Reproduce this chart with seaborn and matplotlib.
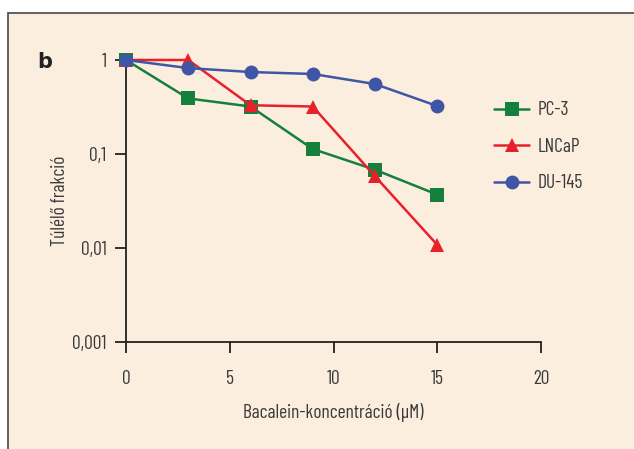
import matplotlib
matplotlib.use("Agg")
import matplotlib.pyplot as plt
from matplotlib.patches import Rectangle
import seaborn as sns
import pandas as pd

# data
conc = [0, 3, 6, 9, 12, 15]
pc3 = [1.0, 0.39, 0.32, 0.113, 0.068, 0.037]
lncap = [1.0, 1.0, 0.33, 0.32, 0.058, 0.0108]
du145 = [1.0, 0.82, 0.745, 0.71, 0.555, 0.324]

series_names = ["PC-3", "LNCaP", "DU-145"]
series_colors = ["#14803C", "#E8202A", "#3F55A5"]
series_markers = ["s", "^", "o"]

x_ticks = [0, 5, 10, 15, 20]
y_ticks = [0.001, 0.01, 0.1, 1]
y_tick_labels = ["0,001", "0,01", "0,1", "1"]

df = pd.DataFrame({
    "conc": conc * 3,
    "frac": pc3 + lncap + du145,
    "line": [n for n in series_names for _ in conc],
})

sns.set_style("ticks")
plt.rcParams["font.family"] = ["Barlow Condensed", "DejaVu Sans"]
text_col = "#3a3a3a"
bg = "#FCEEDF"
fs = 14

fig = plt.figure(figsize=(6.34, 4.49), dpi=100)
fig.patch.set_facecolor("white")
# peach panel with a thin grey frame, running off the right and bottom edges
fig.patches.append(Rectangle((8 / 634, -0.1), 1.2, 1.1 - 13 / 449,
                             transform=fig.transFigure, facecolor=bg,
                             edgecolor="#555555", linewidth=1.3, zorder=-10))
ax = fig.add_axes([126 / 634, 1 - 342 / 449, (541 - 126) / 634, (342 - 60) / 449])
ax.set_facecolor("none")

for name, col, mk in zip(series_names, series_colors, series_markers):
    sub = df[df["line"] == name]
    sns.lineplot(data=sub, x="conc", y="frac", ax=ax, color=col, marker=mk,
                 markersize=10, markeredgewidth=0, linewidth=1.8, label=name,
                 clip_on=False, zorder=3)

ax.set_yscale("log")
ax.set_xlim(0, 20)
ax.set_ylim(0.001, 1)
ax.set_xticks(x_ticks)
ax.set_xticklabels([str(t) for t in x_ticks])
ax.set_yticks(y_ticks)
ax.set_yticklabels(y_tick_labels)
ax.yaxis.set_minor_locator(matplotlib.ticker.NullLocator())

for s in ["top", "right"]:
    ax.spines[s].set_visible(False)
for s in ["left", "bottom"]:
    ax.spines[s].set_color("#222222")
    ax.spines[s].set_linewidth(1.3)
ax.tick_params(axis="both", length=8, width=1.3, color="#222222",
               labelsize=fs, labelcolor=text_col)
ax.tick_params(axis="x", pad=12)
ax.tick_params(axis="y", pad=6)

ax.set_xlabel("Bacalein-koncentráció (µM)", fontsize=fs, color=text_col, labelpad=11)
ax.set_ylabel("Túlélő frakció", fontsize=fs, color=text_col, labelpad=2)

fig.text(45 / 634, 1 - 62 / 449, "b", fontsize=15, fontweight="bold",
         color="#222222", ha="center", va="center",
         family=["DejaVu Sans"])

ax.legend(loc="upper left", bbox_to_anchor=(0.845, 0.915), frameon=False,
          fontsize=fs, labelcolor=text_col, handlelength=1.8,
          labelspacing=0.95, handletextpad=0.45)

fig.savefig("out.png", dpi=100, facecolor=fig.get_facecolor())
